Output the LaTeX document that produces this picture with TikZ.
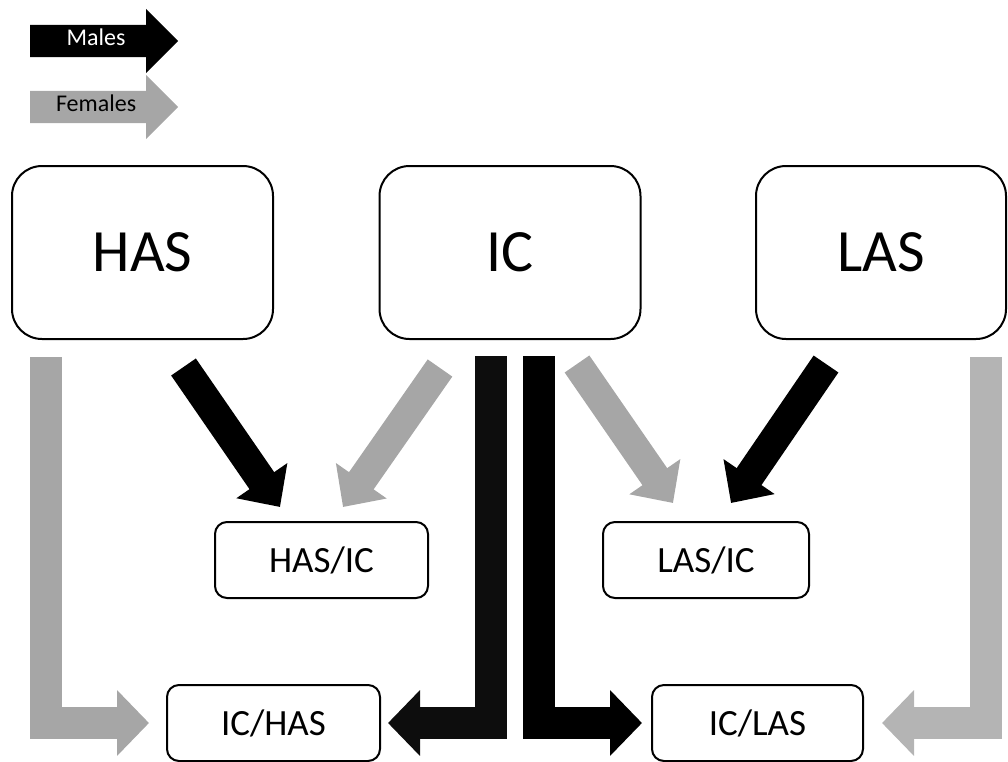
\documentclass[tikz,border=0pt]{standalone}
\usepackage{fontspec}
\setmainfont{Carlito}
\usetikzlibrary{arrows.meta,shapes.arrows}
\definecolor{femgray}{RGB}{166,166,166}
\definecolor{femlight}{RGB}{180,180,180}
\definecolor{maledark}{RGB}{13,13,13}

\begin{document}
\begin{tikzpicture}[x=1pt,y=-1pt,
    bigbox/.style={draw,line width=2pt,rounded corners=30pt,minimum height=173pt,
                   font=\fontsize{60}{60}\selectfont},
    smallbox/.style={draw,line width=2pt,rounded corners=12pt,minimum height=76pt,
                     font=\fontsize{37}{37}\selectfont},
    key/.style={single arrow,single arrow head extend=16pt,minimum height=148pt,
                text height=12pt,text depth=4pt,inner ysep=8pt,anchor=tail,
                font=\fontsize{24}{24}\selectfont},
    fatarrow/.style={line width=30pt,-{Triangle[length=32pt,width=60pt]}},
    elbow/.style={line width=32pt,line join=miter,-{Triangle[length=32pt,width=64pt]}}]
    \useasboundingbox (0,0) rectangle (1008,761);
    \node[key,fill=black,text=white] (males) at (30,41) {Males};
    \node[key,fill=femgray] (females) at (30,107) {Females};
    \node[bigbox,minimum width=261pt] (has) at (142.5,252.5) {HAS};
    \node[bigbox,minimum width=261pt] (ic) at (510,252.5) {IC};
    \node[bigbox,minimum width=250pt] (las) at (881,252.5) {LAS};
    \node[smallbox,minimum width=213pt] (hasic) at (321.5,560) {HAS/IC};
    \node[smallbox,minimum width=206pt] (lasic) at (706,560) {LAS/IC};
    \node[smallbox,minimum width=213pt] (ichas) at (273.5,723) {IC/HAS};
    \node[smallbox,minimum width=211pt] (iclas) at (757.5,723) {IC/LAS};
    \coordinate (hasout) at (183.5,367);
    \coordinate (icoutl) at (440,368);
    \coordinate (icoutr) at (577,364);
    \coordinate (lasout) at (826,364);
    \coordinate (hasicl) at (280,507);
    \coordinate (hasicr) at (343,507);
    \coordinate (lasicl) at (673,503);
    \coordinate (lasicr) at (731,503);
    \coordinate (hasdrop) at (46,357);
    \coordinate (icdropl) at (491,356);
    \coordinate (icdropr) at (539,356);
    \coordinate (lasdrop) at (986,357);
    \draw[fatarrow,black] (hasout) -- (hasicl);
    \draw[fatarrow,femgray] (icoutl) -- (hasicr);
    \draw[fatarrow,femgray] (icoutr) -- (lasicl);
    \draw[fatarrow,black] (lasout) -- (lasicr);
    \draw[elbow,femgray,shorten >=17pt] (hasdrop) |- (ichas.west);
    \draw[elbow,maledark,shorten >=7pt] (icdropl) |- (ichas.east);
    \draw[elbow,black,shorten >=9pt] (icdropr) |- (iclas.west);
    \draw[elbow,femlight,shorten >=18pt] (lasdrop) |- (iclas.east);
\end{tikzpicture}
\end{document}
